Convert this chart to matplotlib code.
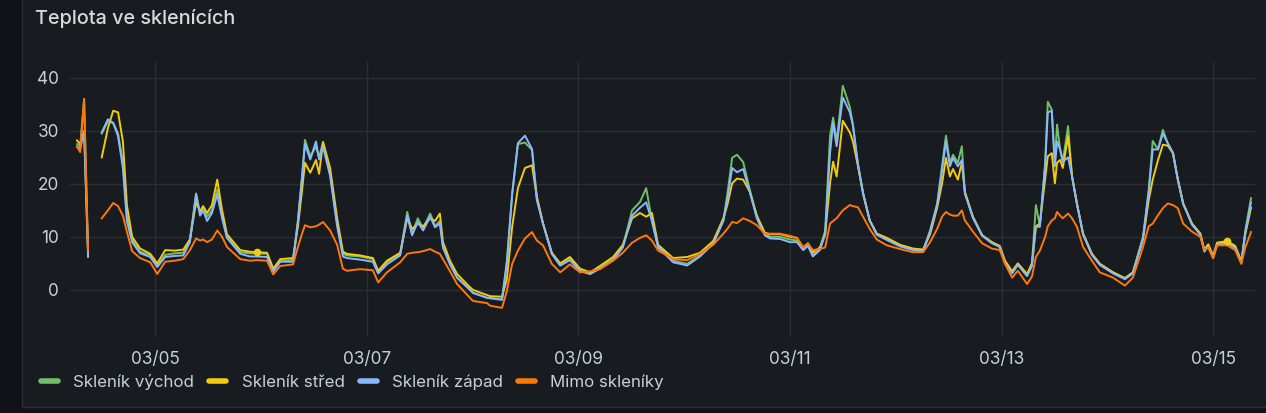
import numpy as np
import matplotlib
matplotlib.use("Agg")
import matplotlib.pyplot as plt
from matplotlib.lines import Line2D
from matplotlib.patches import Rectangle

plt.rcParams['font.family'] = ['Inter', 'DejaVu Sans']

title = "Teplota ve sklenících"
series_names = ["Skleník východ", "Skleník střed", "Skleník západ", "Mimo skleníky"]
series_colors = ["#73BF69", "#F2CC0C", "#8AB8FF", "#FF780A"]

# hours since 03/04 00:00
hours = [6.3, 7.0, 7.9, 8.8, 9.5, 11.9, 13.3, 14.5, 15.6, 16.7, 17.6, 18.8, 20.6, 22.9, 24.5, 26.3, 28.5, 30.4,
         31.9, 33.3, 34.2, 34.9, 35.8, 36.9, 38.1, 39.2, 40.3, 43.3, 45.5, 47.1, 49.4, 50.8, 52.4, 55.3, 56.4,
         57.3, 58.0, 59.2, 60.5, 61.2, 62.1, 63.7, 65.3, 66.6, 67.5, 70.5, 73.4, 74.6, 76.6, 79.6, 81.2, 82.3,
         83.6, 84.8, 86.4, 87.5, 88.6, 89.3, 90.9, 92.5, 95.4, 96.1, 99.3, 100.0, 102.7, 103.8, 105.0, 106.3,
         107.9, 109.5, 110.6, 112.0, 114.0, 115.9, 118.1, 120.4, 122.7, 124.9, 127.9, 130.1, 132.2, 134.0,
         135.4, 136.7, 138.1, 140.8, 141.5, 144.7, 147.6, 150.6, 152.9, 153.8, 154.9, 156.0, 157.4, 158.9,
         160.5, 162.3, 163.5, 165.8, 168.0, 169.6, 171.0, 172.1, 173.2, 174.8, 176.0, 177.1, 177.8, 178.6,
         180.0, 181.6, 182.3, 183.4, 184.6, 186.1, 187.7, 190.0, 193.0, 195.9, 198.2, 199.8, 201.4, 202.5,
         203.4, 204.3, 205.0, 206.1, 207.0, 207.7, 209.5, 211.6, 213.8, 215.6, 216.8, 218.4, 219.7, 221.8,
         222.9, 223.8, 224.7, 225.9, 226.5, 227.4, 228.1, 228.6, 229.3, 229.9, 231.1, 232.0, 233.1, 234.5,
         236.5, 238.3, 241.3, 244.0, 245.8, 248.1, 249.4, 250.3, 251.5, 252.6, 253.7, 254.9, 256.0, 257.2,
         259.2, 261.1, 262.0, 262.9, 264.0, 264.9, 267.2, 269.0, 270.4, 271.3, 272.6]

nan = float('nan')
vychod = [27.5, 27.0, 36.0, 6.5, nan, 29.5, 31.8, 31.5, 29.5, 24.0, 14.0, 9.5, 7.2, 6.5, 4.6, 6.6, 6.9, 7.0,
          9.5, 18.2, 14.5, 15.7, 13.8, 15.0, 18.9, 14.0, 10.0, 7.1, 6.9, 6.9, 6.8, 3.6, 5.5, 5.6, 13.0,
          21.0, 28.3, 25.2, 27.0, 25.0, 27.9, 22.0, 12.5, 6.8, 6.5, 6.3, 5.8, 3.3, 5.2, 6.8, 14.7, 10.6,
          13.5, 11.6, 14.4, 12.0, 13.0, 8.1, 5.0, 2.3, 0.1, -0.5, -1.5, -1.5, -1.8, 5.5, 18.2, 27.5,
          27.8, 26.4, 17.5, 12.5, 6.8, 4.6, 5.8, 3.6, 3.0, 4.2, 5.8, 8.1, 15.0, 16.6,
          19.2, 13.1, 8.1, 6.2, 5.5, 4.9, 6.5, 8.7, 13.1, 18.0, 24.9, 25.5, 24.1, 18.9,
          13.8, 10.6, 10.0, 10.0, 9.5, 9.3, 7.7, 8.5, 6.5, 7.7, 11.2, 29.0, 32.5, 28.0,
          38.5, 34.5, 31.2, 23.9, 18.2, 13.1, 10.6, 9.7, 8.4, 7.7, 7.4, 11.2, 16.3, 23.3,
          29.1, 24.0, 25.5, 24.0, 27.1, 18.2, 13.8, 10.3, 9.0, 8.1, 5.2, 3.3, 4.9, 2.7,
          4.9, 16.0, 12.0, 23.9, 35.5, 34.0, 24.0, 31.2, 26.5, 24.2, 30.9, 21.4, 16.3, 10.6,
          6.8, 4.9, 3.3, 2.2, 3.3, 10.0, 18.9, 28.1, 26.5, 30.2, 27.7, 25.8, 20.8, 16.3,
          12.5, 10.6, 7.4, 8.4, 6.2, 8.7, 9.0, 8.1, 5.2, 11.2, 17.3]
stred = [28.2, 27.5, 30.0, 7.0, nan, 25.0, 30.5, 33.8, 33.5, 28.0, 16.0, 10.0, 7.8, 6.8, 5.0, 7.5, 7.4, 7.6,
         9.5, 16.5, 14.8, 15.8, 14.5, 16.0, 20.8, 15.0, 10.5, 7.5, 7.2, 7.1, 7.0, 4.0, 5.8, 6.0, 12.0,
         18.5, 24.0, 22.1, 24.5, 21.9, 27.9, 23.0, 13.5, 7.2, 6.8, 6.5, 6.0, 3.6, 5.5, 7.0, 13.5, 11.5,
         12.5, 12.0, 13.5, 13.0, 14.4, 9.0, 5.5, 3.0, 0.5, 0.0, -1.0, -1.2, -1.3, 2.0, 11.9, 19.2,
         23.0, 23.5, 17.5, 12.5, 7.0, 5.0, 6.2, 4.0, 3.3, 4.5, 6.2, 8.5, 13.5, 14.5,
         13.8, 14.5, 8.5, 6.5, 6.0, 6.2, 7.0, 9.2, 13.5, 16.0, 20.1, 21.0, 20.8, 18.5,
         14.0, 10.8, 10.5, 10.5, 10.0, 9.8, 8.0, 8.8, 7.0, 8.0, 10.5, 20.1, 24.2, 21.4,
         31.9, 29.7, 28.0, 23.5, 18.2, 13.1, 10.6, 9.8, 8.5, 7.8, 7.6, 10.5, 15.5, 20.0,
         24.9, 21.4, 22.8, 20.8, 24.0, 18.5, 13.8, 10.3, 9.0, 8.3, 5.5, 3.5, 5.0, 3.0,
         5.0, 12.0, 12.5, 21.0, 25.2, 25.8, 20.1, 24.0, 24.5, 23.0, 29.0, 21.4, 16.3, 10.6,
         6.8, 4.9, 3.3, 2.2, 3.3, 9.5, 17.0, 20.8, 24.5, 27.4, 27.2, 25.8, 20.8, 16.3,
         12.5, 10.6, 7.6, 8.6, 6.4, 8.9, 9.2, 8.3, 5.4, 10.5, 15.5]
zapad = [27.0, 26.5, 30.0, 6.2, nan, 29.7, 32.2, 31.5, 29.0, 23.0, 13.0, 9.0, 6.9, 6.2, 4.3, 6.2, 6.4, 6.5,
         9.0, 18.0, 14.0, 15.0, 13.0, 14.5, 18.0, 13.5, 9.8, 6.8, 6.3, 6.3, 6.2, 3.4, 5.3, 5.3, 13.0,
         21.0, 27.5, 24.6, 28.0, 24.6, 27.0, 21.5, 12.0, 6.3, 6.0, 5.7, 5.3, 3.1, 4.8, 6.5, 14.0, 10.3,
         12.8, 11.2, 13.8, 11.8, 12.5, 8.0, 4.8, 2.3, 0.0, -0.6, -1.5, -1.6, -1.9, 5.0, 18.0, 27.7,
         29.1, 26.6, 16.9, 12.5, 6.8, 4.6, 5.6, 3.5, 3.0, 4.0, 5.6, 8.0, 14.0, 15.5,
         16.5, 13.0, 8.0, 5.8, 5.2, 4.6, 6.3, 8.7, 13.0, 17.0, 23.0, 22.2, 22.8, 18.5,
         13.5, 10.3, 9.7, 9.6, 9.0, 9.0, 7.5, 8.3, 6.3, 7.5, 10.5, 25.8, 31.5, 27.1,
         36.3, 33.5, 31.0, 23.9, 18.2, 13.1, 10.4, 9.4, 8.2, 7.5, 7.2, 11.0, 16.0, 22.5,
         28.0, 23.3, 24.9, 23.3, 24.5, 18.2, 13.6, 10.2, 8.8, 8.1, 5.0, 3.1, 4.7, 2.6,
         4.5, 11.9, 11.9, 23.5, 33.5, 33.8, 23.3, 28.0, 26.5, 24.2, 25.0, 21.4, 16.3, 10.4,
         6.6, 4.7, 3.1, 2.0, 3.1, 9.8, 18.5, 26.5, 26.5, 29.5, 27.7, 25.8, 20.8, 16.3,
         12.3, 10.4, 7.2, 8.2, 6.0, 8.5, 8.8, 7.9, 5.0, 10.8, 16.5]
mimo = [27.0, 26.0, 36.0, 7.5, nan, 13.5, 15.0, 16.4, 15.8, 14.0, 11.0, 7.3, 6.0, 5.2, 3.0, 5.3, 5.5, 5.8,
        7.5, 9.7, 9.3, 9.5, 9.0, 9.5, 11.2, 10.0, 8.1, 5.8, 5.5, 5.6, 5.5, 2.9, 4.5, 4.8, 8.1,
        10.5, 12.2, 11.8, 12.0, 12.3, 12.8, 11.2, 8.5, 4.0, 3.6, 3.9, 3.7, 1.4, 3.3, 5.2, 6.8, 7.0,
        7.1, 7.3, 7.7, 7.2, 6.8, 5.8, 3.5, 1.1, -1.5, -2.1, -2.5, -3.0, -3.4, -0.2, 4.9, 7.4,
        9.7, 10.9, 9.3, 8.4, 4.9, 3.3, 4.8, 3.3, 3.5, 3.9, 5.5, 7.0, 8.9, 9.8,
        10.3, 9.3, 7.4, 6.2, 5.8, 5.6, 6.8, 8.5, 10.6, 11.5, 12.8, 12.6, 13.5, 13.0,
        12.2, 10.6, 10.6, 10.6, 10.2, 9.8, 8.0, 8.7, 7.5, 7.7, 8.0, 12.5, 13.0, 13.5,
        15.0, 16.0, 15.8, 15.6, 13.8, 11.5, 9.5, 8.4, 7.7, 7.1, 7.1, 9.0, 11.5, 13.8,
        14.7, 14.2, 14.0, 14.0, 15.0, 13.1, 11.0, 8.8, 7.8, 7.5, 4.9, 2.3, 3.6, 1.1,
        2.5, 6.2, 7.4, 10.0, 12.0, 13.1, 13.5, 14.7, 14.0, 13.5, 14.4, 13.5, 11.9, 8.1,
        5.5, 3.3, 2.3, 0.8, 2.3, 8.1, 12.0, 12.5, 14.1, 15.4, 16.3, 16.0, 15.4, 12.5,
        11.0, 10.0, 7.5, 8.0, 6.0, 8.4, 8.4, 7.5, 4.9, 8.0, 10.9]

stred_dot_hours = [47.1, 267.2]

y_ticks = [0, 10, 20, 30, 40]
x_tick_hours = [24, 72, 120, 168, 216, 264]
x_tick_labels = ["03/05", "03/07", "03/09", "03/11", "03/13", "03/15"]

W, H = 1266, 413
fig = plt.figure(figsize=(W / 100, H / 100), dpi=100)
fig.patch.set_facecolor("#111217")
# panel
fig.patches.append(Rectangle((22 / W, 6 / H), 1.1, 1.1, transform=fig.transFigure,
                             facecolor="#181b1f", edgecolor="#2a2d33", linewidth=1.0, zorder=-5))

ax = fig.add_axes([70 / W, 1 - 337 / H, (1255 - 70) / W, (337 - 62) / H])
ax.set_zorder(1)
ax.set_facecolor("#181b1f")
for s in ax.spines.values():
    s.set_visible(False)

data = [vychod, stred, zapad, mimo]
h = np.array(hours)
for vals, name, col in zip(data, series_names, series_colors):
    ax.plot(h, np.array(vals), color=col, lw=1.4, label=name, solid_joinstyle='round')

ax.plot(stred_dot_hours, np.interp(stred_dot_hours, h, np.nan_to_num(np.array(stred))),
        'o', color=series_colors[1], ms=4.5, zorder=5)

ax.set_xlim(4.7, 273.5)
ax.set_ylim(-8.9, 43.0)
ax.set_yticks(y_ticks)
ax.set_xticks(x_tick_hours)
ax.set_xticklabels(x_tick_labels)
ax.set_axisbelow(True)
ax.grid(True, color="#2b2e34", lw=1.0)
ax.tick_params(axis='both', length=0, colors="#c7d0d9", labelsize=12.4)
ax.tick_params(axis='y', pad=8)
ax.tick_params(axis='x', pad=10)

fig.text(35 / W, 1 - 18 / H, title, color="#d8d9da", fontsize=14.3, va='center', ha='left', fontweight='medium')

handles = [Line2D([0], [0], color=c, lw=4, solid_capstyle='round') for c in series_colors]
fig.legend(handles, series_names, loc='center left', bbox_to_anchor=(41 / W, 1 - 382 / H),
           ncol=4, frameon=False, fontsize=12.2, labelcolor="#c7d0d9",
           handlelength=1.0, handletextpad=0.9, columnspacing=0.9, borderaxespad=0, borderpad=0)

fig.savefig("out.png", dpi=100, facecolor=fig.get_facecolor())
